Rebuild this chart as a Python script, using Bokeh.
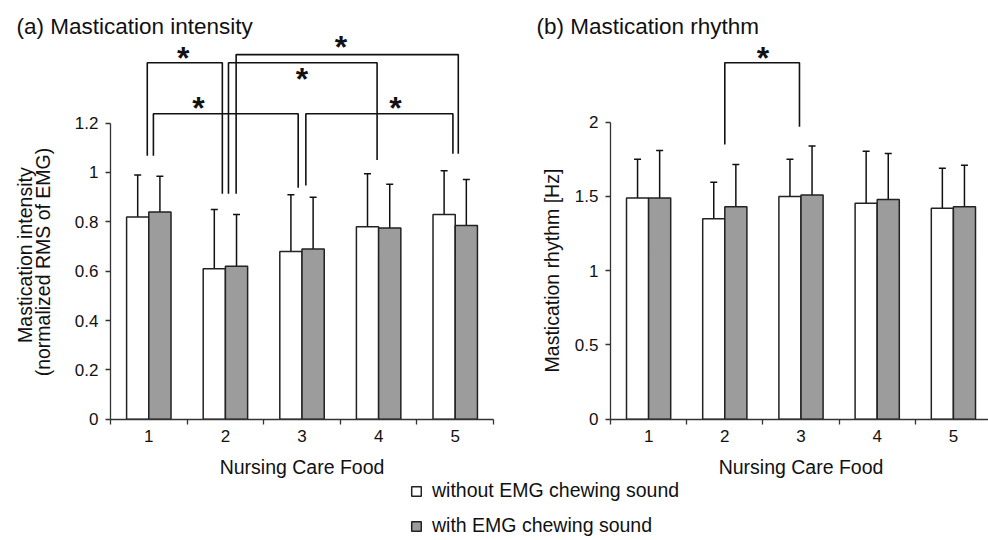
import math
from bokeh.plotting import figure
from bokeh.models import (ColumnDataSource, Whisker, TeeHead, FixedTicker, Label,
                          Legend, LegendItem, Range1d, CustomJSTickFormatter)
from bokeh.layouts import column, row
from bokeh.core.properties import value
from bokeh.embed import file_html
from bokeh.resources import INLINE

FONT = "Liberation Sans"
INK = "#111111"
GRAY = "#9c9c9c"

# ---------------- data ----------------
foods = ["1", "2", "3", "4", "5"]
series_names = ["without EMG chewing sound", "with EMG chewing sound"]

intensity_without = [0.82, 0.61, 0.68, 0.78, 0.83]
intensity_without_sd = [0.17, 0.24, 0.23, 0.215, 0.177]
intensity_with = [0.84, 0.62, 0.69, 0.775, 0.785]
intensity_with_sd = [0.145, 0.21, 0.21, 0.177, 0.187]

rhythm_without = [1.49, 1.35, 1.50, 1.455, 1.42]
rhythm_without_sd = [0.26, 0.245, 0.25, 0.35, 0.27]
rhythm_with = [1.49, 1.43, 1.51, 1.48, 1.43]
rhythm_with_sd = [0.32, 0.285, 0.33, 0.31, 0.28]

intensity_ticks = [0, 0.2, 0.4, 0.6, 0.8, 1.0, 1.2]
rhythm_ticks = [0, 0.5, 1.0, 1.5, 2.0]

# significance brackets: left x, right x, bar height, left leg end, right leg end, star x, star y
intensity_sig_xl = [0.98, 2.14, 2.04, 1.06, 3.05]
intensity_sig_xr = [1.96, 5.04, 3.98, 2.95, 4.97]
intensity_sig_top = [1.445, 1.478, 1.445, 1.238, 1.238]
intensity_sig_legl = [1.068, 0.914, 0.914, 1.068, 0.947]
intensity_sig_legr = [0.914, 1.076, 1.051, 0.938, 1.076]
intensity_star_x = [1.45, 3.51, 3.0, 1.65, 4.22]
intensity_star_y = [1.481, 1.524, 1.397, 1.278, 1.278]

rhythm_sig_xl = [2.0]
rhythm_sig_xr = [2.98]
rhythm_sig_top = [2.40]
rhythm_sig_legl = [1.85]
rhythm_sig_legr = [1.97]
rhythm_star_x = [2.5]
rhythm_star_y = [2.46]


def make_panel(width, xr, yr, ticks, wo, wo_sd, wi, wi_sd,
               sxl, sxr, stop, sll, slr, stx, sty,
               title, title_xy, ylabels, ylabel_xy, xlabel_xy):
    p = figure(width=width, height=480, x_range=Range1d(*xr), y_range=Range1d(*yr),
               output_backend="svg", toolbar_location=None,
               min_border_left=0, min_border_right=0,
               min_border_top=0, min_border_bottom=0)
    p.outline_line_color = None
    p.grid.visible = False
    p.background_fill_color = "white"

    xs = [i + 1 for i in range(len(foods))]
    for vals, sds, off, fill in ((wo, wo_sd, -0.145, "white"),
                                 (wi, wi_sd, 0.145, GRAY)):
        src = ColumnDataSource(dict(
            x=[x + off for x in xs], top=vals,
            upper=[v + s for v, s in zip(vals, sds)],
            lower=[v - s for v, s in zip(vals, sds)]))
        p.vbar(x="x", top="top", width=0.29, source=src, fill_color=fill,
               line_color="#222222", line_width=1.5)
        p.add_layout(Whisker(source=src, base="x", upper="upper", lower="lower",
                             dimension="height", line_color=INK, line_width=1.5,
                             upper_head=TeeHead(size=7, line_color=INK, line_width=1.5),
                             lower_head=TeeHead(size=7, line_color=INK, line_width=1.5)))

    # significance brackets
    bxs = [[a, a, b, b] for a, b in zip(sxl, sxr)]
    bys = [[l, t, t, r] for t, l, r in zip(stop, sll, slr)]
    p.multi_line(xs=bxs, ys=bys, line_color=INK, line_width=1.6)
    p.text(x=stx, y=sty, text=["*"] * len(stx), text_font=value(FONT),
           text_font_size="32px", text_font_style="bold", text_align="center",
           text_baseline="alphabetic", y_offset=4, text_color=INK)

    # axes (fixed inside the full-canvas frame)
    xa = p.xaxis[0]
    xa.fixed_location = 0
    xa.bounds = (0.5, len(foods) + 0.5)
    xa.ticker = FixedTicker(ticks=xs, minor_ticks=[x - 0.5 for x in xs] + [xs[-1] + 0.5])
    xa.major_label_overrides = {x: f for x, f in zip(xs, foods)}
    xa.major_tick_out = 0
    xa.major_tick_in = 0
    xa.minor_tick_out = 5
    xa.minor_tick_in = 0
    xa.major_label_standoff = 6

    ya = p.yaxis[0]
    ya.fixed_location = 0.5
    ya.ticker = FixedTicker(ticks=ticks, minor_ticks=[])
    ya.formatter = CustomJSTickFormatter(code="return String(tick)")
    ya.bounds = (ticks[0], ticks[-1])
    ya.major_tick_out = 5
    ya.major_tick_in = 0
    ya.major_label_standoff = 7

    for ax in (xa, ya):
        ax.axis_line_color = "#333333"
        ax.axis_line_width = 1.3
        ax.major_tick_line_color = "#333333"
        ax.minor_tick_line_color = "#333333"
        ax.major_tick_line_width = 1.3
        ax.minor_tick_line_width = 1.3
        ax.major_label_text_font = FONT
        ax.major_label_text_font_size = "17px"
        ax.major_label_text_color = INK

    p.add_layout(Label(x=xlabel_xy[0], y=xlabel_xy[1], text="Nursing Care Food",
                       text_font=FONT, text_font_size="19.5px", text_align="center",
                       text_baseline="middle", text_color=INK))
    p.add_layout(Label(x=title_xy[0], y=title_xy[1], text=title, text_font=FONT,
                       text_font_size="22.5px", text_align="left",
                       text_baseline="alphabetic", text_color=INK))
    for (lx, ly), txt in zip(ylabel_xy, ylabels):
        p.add_layout(Label(x=lx, y=ly, text=txt, angle=math.pi / 2, text_font=FONT,
                           text_font_size="19.5px", text_align="center",
                           text_baseline="middle", text_color=INK))
    return p


p1 = make_panel(500, (-0.936, 5.591), (-0.2485, 1.6972), intensity_ticks,
                intensity_without, intensity_without_sd,
                intensity_with, intensity_with_sd,
                intensity_sig_xl, intensity_sig_xr, intensity_sig_top,
                intensity_sig_legl, intensity_sig_legr, intensity_star_x, intensity_star_y,
                "(a) Mastication intensity", (-0.727, 1.592),
                ["Mastication intensity", "(normalized RMS of EMG)"],
                [(-0.615, 0.665), (-0.380, 0.637)], (3.0, -0.195))

p2 = make_panel(488, (-0.9436, 5.4606), (-0.4128, 2.8195), rhythm_ticks,
                rhythm_without, rhythm_without_sd,
                rhythm_with, rhythm_with_sd,
                rhythm_sig_xl, rhythm_sig_xr, rhythm_sig_top,
                rhythm_sig_legl, rhythm_sig_legr, rhythm_star_x, rhythm_star_y,
                "(b) Mastication rhythm", (-0.471, 2.644),
                ["Mastication rhythm [Hz]"], [(-0.27, 1.001)], (3.0, -0.324))

# legend strip
pl = figure(width=988, height=60, x_range=Range1d(0, 988), y_range=Range1d(0, 60),
            x_axis_type=None, y_axis_type=None, output_backend="svg",
            toolbar_location=None, min_border=0)
pl.outline_line_color = None
pl.grid.visible = False
r_wo = pl.vbar(x=[500], top=[30], width=10, fill_color="white",
               line_color="#222222", line_width=1.5, visible=False)
r_wi = pl.vbar(x=[500], top=[30], width=10, fill_color=GRAY,
               line_color="#222222", line_width=1.5, visible=False)
leg = Legend(items=[LegendItem(label=series_names[0], renderers=[r_wo]),
                    LegendItem(label=series_names[1], renderers=[r_wi])],
             location=(410, 3), orientation="vertical",
             glyph_width=12, glyph_height=12, label_height=20, spacing=12,
             label_standoff=10, padding=0, margin=0,
             border_line_color=None, background_fill_alpha=0,
             inactive_fill_alpha=0,
             label_text_font=FONT, label_text_font_size="19.5px", label_text_color=INK)
pl.add_layout(leg)

layout = column(row(p1, p2), pl)
open("out.html", "w").write(file_html(layout, INLINE))
